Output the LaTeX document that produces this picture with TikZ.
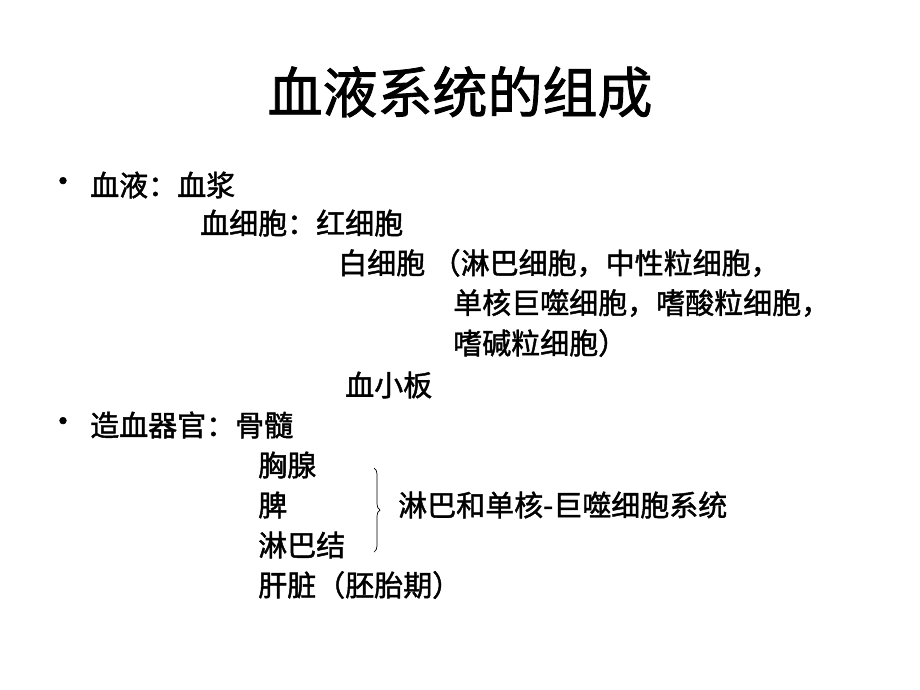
\documentclass[tikz,border=0pt]{standalone}
\usepackage{fontspec}
\setmainfont[FakeBold=1.5,AutoFakeBold=1.5]{Noto Sans CJK SC}
\usetikzlibrary{positioning,decorations.pathreplacing}
\tikzset{line/.style={anchor=west, inner sep=0pt, font=\bfseries\fontsize{29}{29}\selectfont},
         dot/.style={anchor=center, inner sep=0pt, font=\fontsize{32}{32}\selectfont}}
\begin{document}
\begin{tikzpicture}[x=1pt,y=-1pt]
  \useasboundingbox (0,0) rectangle (920,690);
  \node (title) [inner sep=0pt, font=\bfseries\fontsize{55}{55}\selectfont] at (460,92) {血液系统的组成};
  % blood
  \node (b1) [dot] at (63,185) {•};
  \node (blood) [line] at (90,185) {血液：血浆};
  \node (cells) [line] at (200,223) {血细胞：红细胞};
  \node (white) [line] at (338,263) {白细胞 （淋巴细胞，中性粒细胞，};
  \node (white2) [line] at (453,303) {单核巨噬细胞，嗜酸粒细胞，};
  \node (white3) [line] at (453,343) {嗜碱粒细胞）};
  \node (plate) [line] at (345,385) {血小板};
  % organs
  \node (b2) [dot] at (63,425) {•};
  \node (organ) [line] at (90,425) {造血器官：骨髓};
  \node (thymus) [line] at (258,465) {胸腺};
  \node (spleen) [line] at (258,505) {脾};
  \node (lymph) [line] at (258,545) {淋巴结};
  \node (liver) [line] at (258,585) {肝脏（胚胎期）};
  \coordinate (btop) at (374,468);
  \coordinate (bbot) at (374,552);
  \draw[decorate, decoration={brace, amplitude=6pt}, line width=0.7pt] (btop) -- (bbot);
  \node (system) [line] at (398,505) {淋巴和单核-巨噬细胞系统};
\end{tikzpicture}
\end{document}
